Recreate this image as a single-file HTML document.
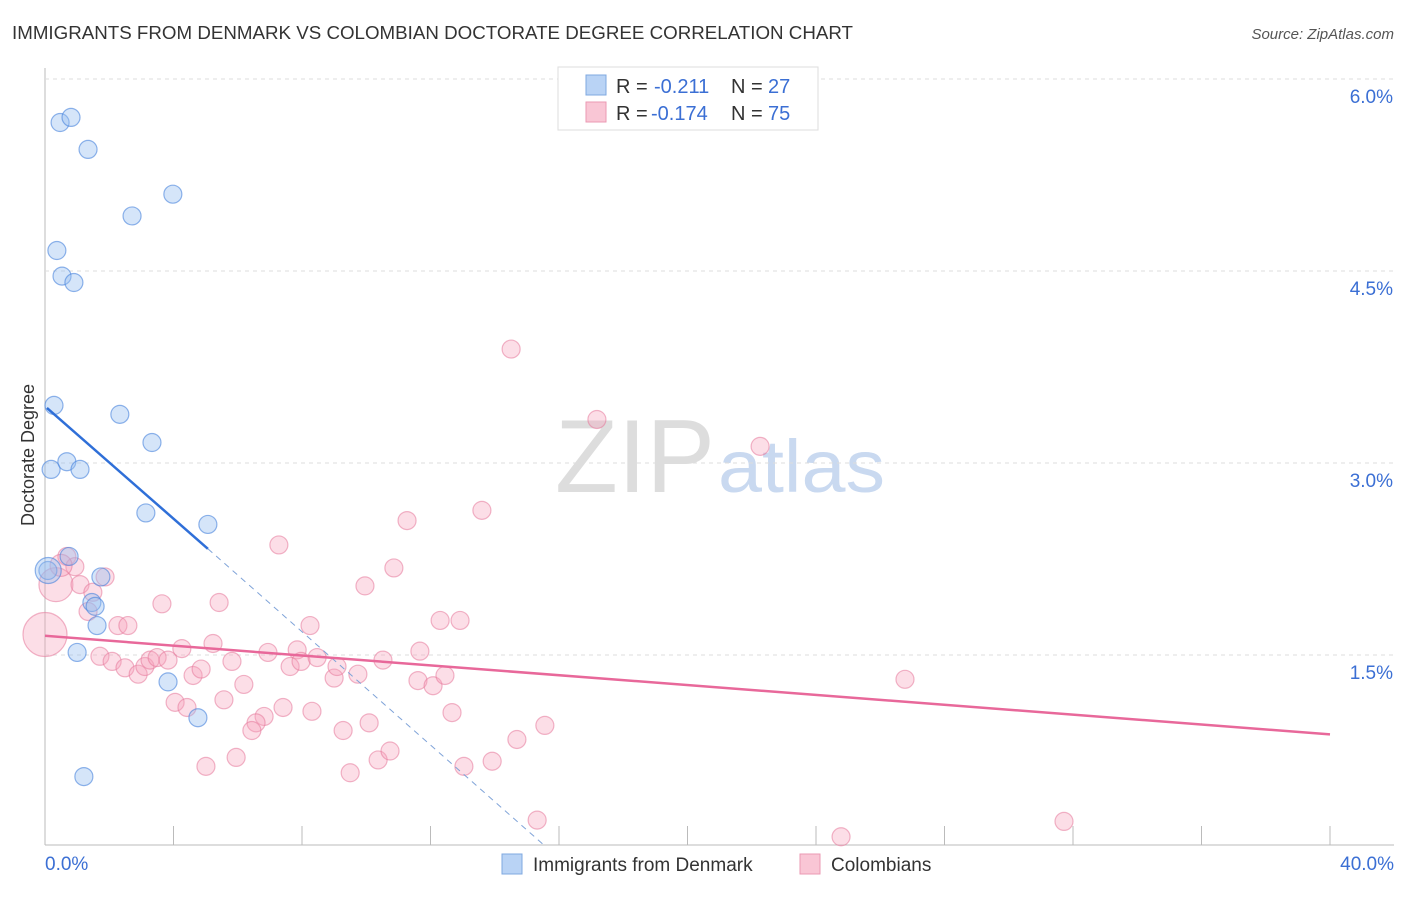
<!DOCTYPE html>
<html><head><meta charset="utf-8"><style>
body{margin:0;background:#fff;font-family:"Liberation Sans",sans-serif;}
svg text{font-family:"Liberation Sans",sans-serif;}
</style></head><body>
<svg id="c" width="1406" height="892" xmlns="http://www.w3.org/2000/svg">
<text x="12" y="39" font-size="18" fill="#333" textLength="841" lengthAdjust="spacingAndGlyphs">IMMIGRANTS FROM DENMARK VS COLOMBIAN DOCTORATE DEGREE CORRELATION CHART</text>
<text x="1394" y="39" font-size="15" fill="#555" font-style="italic" text-anchor="end">Source: ZipAtlas.com</text>
<text x="34" y="455" font-size="18" fill="#333" text-anchor="middle" transform="rotate(-90 34 455)">Doctorate Degree</text>
<g>
<text x="555" y="492" font-size="104" fill="#ddd" font-family="Liberation Serif" textLength="160" lengthAdjust="spacingAndGlyphs">ZIP</text>
<text x="718" y="492" font-size="74" fill="#c9d9f0" textLength="167" lengthAdjust="spacingAndGlyphs">atlas</text>
</g>
<g id="grid"></g><g id="pts"></g><g id="lines"></g>
<g>
<rect x="558" y="67" width="260" height="63" fill="#fff" stroke="#ddd"/>
<rect x="586" y="75" width="20" height="20" fill="#b9d3f5" stroke="#7fa8e0"/>
<text x="616" y="93" font-size="20" fill="#333">R = </text><text x="654" y="93" font-size="20" fill="#3b6fd4">-0.211</text>
<text x="731" y="93" font-size="20" fill="#333">N = </text><text x="768" y="93" font-size="20" fill="#3b6fd4">27</text>
<rect x="586" y="102" width="20" height="20" fill="#f9c6d5" stroke="#eb99b3"/>
<text x="616" y="120" font-size="20" fill="#333">R = </text><text x="651" y="120" font-size="20" fill="#3b6fd4">-0.174</text>
<text x="731" y="120" font-size="20" fill="#333">N = </text><text x="768" y="120" font-size="20" fill="#3b6fd4">75</text>
</g>
<g>
<rect x="502" y="854" width="20" height="20" fill="#b9d3f5" stroke="#7fa8e0"/>
<text x="533" y="871" font-size="19" fill="#333">Immigrants from Denmark</text>
<rect x="800" y="854" width="20" height="20" fill="#f9c6d5" stroke="#eb99b3"/>
<text x="831" y="871" font-size="19" fill="#333">Colombians</text>
</g>
</svg>
<script>
const xTicks=[0,4,8,12,16,20,24,28,32,36,40];
const yTicks=[1.5,3.0,4.5,6.0];
const yTickLabels=["1.5%","3.0%","4.5%","6.0%"];
const blueX=[0.47,0.81,1.34,2.71,3.98,0.37,0.53,0.90,0.28,2.33,3.33,0.19,0.68,1.09,3.14,5.07,0.75,0.09,1.74,1.46,1.56,1.62,1.00,3.83,4.76,1.21,0.1];
const blueY=[5.66,5.70,5.45,4.93,5.10,4.66,4.46,4.41,3.45,3.38,3.16,2.95,3.01,2.95,2.61,2.52,2.27,2.16,2.11,1.91,1.88,1.73,1.52,1.29,1.01,0.55,2.16];
const pinkX=[14.51,17.18,22.26,11.27,13.60,7.28,10.86,9.96,0.68,0.93,0.34,1.09,1.49,1.87,3.64,5.42,1.34,2.27,2.58,8.25,12.30,12.92,0,4.26,5.23,1.71,2.09,2.49,2.90,3.11,3.27,3.49,3.83,4.61,4.86,5.82,6.19,6.94,7.63,7.85,7.97,8.47,9.00,9.09,9.74,10.52,11.67,11.61,12.08,12.45,4.05,4.42,5.57,6.82,7.41,8.31,6.57,6.44,9.28,10.09,12.67,14.69,15.56,5.01,5.95,9.50,10.37,10.74,13.04,13.92,15.32,24.78,26.77,31.72,0.5];
const pinkY=[3.89,3.34,3.13,2.55,2.63,2.36,2.18,2.04,2.27,2.19,2.05,2.05,1.99,2.11,1.90,1.91,1.84,1.73,1.73,1.73,1.77,1.77,1.66,1.55,1.59,1.49,1.45,1.40,1.35,1.41,1.46,1.48,1.46,1.34,1.39,1.45,1.27,1.52,1.41,1.54,1.45,1.48,1.32,1.41,1.35,1.46,1.53,1.30,1.26,1.34,1.13,1.09,1.15,1.02,1.09,1.06,0.97,0.91,0.91,0.97,1.05,0.84,0.95,0.63,0.70,0.58,0.68,0.75,0.63,0.67,0.21,0.08,1.31,0.20,2.2];
const pinkR=[9,9,9,9,9,9,9,9,9,9,17,9,9,9,9,9,9,9,9,9,9,9,22,9,9,9,9,9,9,9,9,9,9,9,9,9,9,9,9,9,9,9,9,9,9,9,9,9,9,9,9,9,9,9,9,9,9,9,9,9,9,9,9,9,9,9,9,9,9,9,9,9,9,9,11];
const blueTrend=[[0.06,3.43],[5.07,2.33],[15.6,0]];
const pinkTrend=[[0,1.65],[40,0.88]];
const X=v=>45+v/40*1285, Y=v=>847-v*128;
const NS="http://www.w3.org/2000/svg";
function mk(p,t,a){const e=document.createElementNS(NS,t);for(const k in a)e.setAttribute(k,a[k]);p.appendChild(e);return e;}
const svg=document.getElementById('c'),grid=document.getElementById('grid'),pts=document.getElementById('pts'),lines=document.getElementById('lines');
let ax=mk(grid,'line',{x1:45,y1:68,x2:45,y2:845,stroke:'#bbb'});


let bx=mk(grid,'line',{x1:45,y1:845,x2:1394,y2:845,stroke:'#bbb'});


yTicks.forEach((t,i)=>{
 let g=mk(grid,'line',{x1:45,y1:Y(t),x2:1394,y2:Y(t),stroke:'#ddd','stroke-dasharray':'4,4'});
 
 
 let l=mk(grid,'text',{x:1393,y:Y(t)+24,'font-size':19,fill:'#3b6fd4','text-anchor':'end'});l.textContent=yTickLabels[i];
 
 
});
xTicks.forEach(t=>{if(t===0)return;
 let k=mk(grid,'line',{x1:X(t),y1:826,x2:X(t),y2:845,stroke:'#bbb'});
 
 
});
[[0,"0.0%",'start',45],[40,"40.0%",'end',1394]].forEach(([v,s,a,px])=>{
 let l=mk(grid,'text',{x:px,y:870,'font-size':19,fill:'#3b6fd4','text-anchor':a});l.textContent=s;
 
 
});
pinkX.forEach((v,i)=>{let c=mk(pts,'circle',{cx:X(v),cy:Y(pinkY[i]),r:pinkR[i],fill:'rgba(245,160,185,0.35)',stroke:'rgba(230,120,155,0.55)','stroke-width':1.2});
 
 });
blueX.forEach((v,i)=>{let c=mk(pts,'circle',{cx:X(v),cy:Y(blueY[i]),r:i===26?13:9,fill:'rgba(150,190,240,0.4)',stroke:'rgba(70,130,220,0.6)','stroke-width':1.2});
 
 });
let b1=mk(lines,'line',{x1:X(blueTrend[0][0]),y1:Y(blueTrend[0][1]),x2:X(blueTrend[1][0]),y2:Y(blueTrend[1][1]),stroke:'#2f6fd8','stroke-width':2.5});


let b2=mk(lines,'line',{x1:X(blueTrend[1][0]),y1:Y(blueTrend[1][1]),x2:X(blueTrend[2][0]),y2:Y(blueTrend[2][1]),stroke:'#7fa3d8','stroke-width':1,'stroke-dasharray':'6,5'});


let p1=mk(lines,'line',{x1:X(pinkTrend[0][0]),y1:Y(pinkTrend[0][1]),x2:X(pinkTrend[1][0]),y2:Y(pinkTrend[1][1]),stroke:'#e8689a','stroke-width':2.5});


</script>
</body></html>
